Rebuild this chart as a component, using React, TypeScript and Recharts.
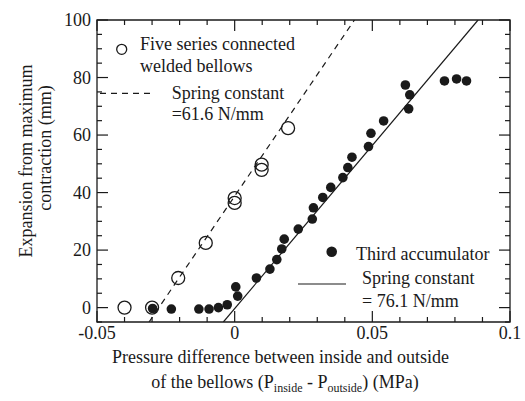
import React from "react";
import { ScatterChart, Scatter, XAxis, YAxis, ReferenceArea } from "recharts";

// open circles: five series connected welded bellows
const bellowsPoints = [
  { x: -0.04, y: 0 },
  { x: -0.03, y: 0 },
  { x: -0.0205, y: 10.3 },
  { x: -0.0105, y: 22.5 },
  { x: 0, y: 36.4 },
  { x: 0, y: 38.1 },
  { x: 0.0098, y: 47.9 },
  { x: 0.0098, y: 49.7 },
  { x: 0.0194, y: 62.4 },
];

// filled circles: third accumulator
const accumulatorPoints = [
  { x: -0.0298, y: -0.3 },
  { x: -0.023, y: -0.5 },
  { x: -0.013, y: -0.5 },
  { x: -0.0093, y: -0.5 },
  { x: -0.0059, y: 0 },
  { x: -0.0027, y: 1 },
  { x: 0.0011, y: 4 },
  { x: 0.0004, y: 7.2 },
  { x: 0.0079, y: 10.3 },
  { x: 0.0128, y: 13.4 },
  { x: 0.0153, y: 16.7 },
  { x: 0.0171, y: 20.4 },
  { x: 0.018, y: 23.8 },
  { x: 0.0231, y: 27.3 },
  { x: 0.0282, y: 30.8 },
  { x: 0.0286, y: 34.7 },
  { x: 0.032, y: 38.3 },
  { x: 0.0349, y: 41.8 },
  { x: 0.0393, y: 45.2 },
  { x: 0.0411, y: 48.7 },
  { x: 0.0426, y: 52.3 },
  { x: 0.0486, y: 56 },
  { x: 0.0495, y: 60.6 },
  { x: 0.0541, y: 64.9 },
  { x: 0.0632, y: 69.1 },
  { x: 0.0636, y: 74 },
  { x: 0.062, y: 77.4 },
  { x: 0.0762, y: 78.8 },
  { x: 0.0806, y: 79.5 },
  { x: 0.0842, y: 78.8 },
];

// fitted spring-constant lines (end points at the frame edges)
const bellowsFit = [
  { x: -0.0311, y: -5 },
  { x: 0.0435, y: 100 },
];
const accumulatorFit = [
  { x: -0.0041, y: -5 },
  { x: 0.0884, y: 100 },
];

const xTicks = [-0.05, -0.04, -0.03, -0.02, -0.01, 0, 0.01, 0.02, 0.03, 0.04, 0.05, 0.06, 0.07, 0.08, 0.09, 0.1];
const xLabels = ["-0.05", "0", "0.05", "0.1"];
const yTicks = [-5, 0, 5, 10, 15, 20, 25, 30, 35, 40, 45, 50, 55, 60, 65, 70, 75, 80, 85, 90, 95, 100];
const yLabels = ["0", "20", "40", "60", "80", "100"];

const W = 525;
const H = 401;
const TOP = 20;
const RIGHT = 15;
const YAXIS_W = 97;
const XAXIS_H = 79;
const PLOT_W = W - YAXIS_W - RIGHT;
const PLOT_H = H - TOP - XAXIS_H;

const FONT = "Liberation Serif";
const INK = "#1a1a1a";
const MAJOR = 11;
const MINOR = 5;
const textStyle = { fontFamily: FONT, fontSize: 18 };

function fmtX(v: number) {
  return v === 0 ? "0" : String(v);
}

function XTick(props: any) {
  const { x, y, payload } = props;
  const label = fmtX(payload.value);
  const major = xLabels.includes(label);
  const len = major ? MAJOR : MINOR;
  const top = y - PLOT_H;
  return (
    <g>
      <line x1={x} y1={y} x2={x} y2={y - len} stroke={INK} strokeWidth={1.2} />
      <line x1={x} y1={top} x2={x} y2={top + len} stroke={INK} strokeWidth={1.2} />
      {major && (
        <text x={x} y={y + 17} textAnchor="middle" style={textStyle} fill={INK}>
          {label}
        </text>
      )}
    </g>
  );
}

function YTick(props: any) {
  const { x, y, payload } = props;
  const label = String(payload.value);
  const major = yLabels.includes(label);
  const len = major ? MAJOR : MINOR;
  const right = x + PLOT_W;
  return (
    <g>
      <line x1={x} y1={y} x2={x + len} y2={y} stroke={INK} strokeWidth={1.2} />
      <line x1={right} y1={y} x2={right - len} y2={y} stroke={INK} strokeWidth={1.2} />
      {major && (
        <text x={x - 6} y={y + 6} textAnchor="end" style={textStyle} fill={INK}>
          {label}
        </text>
      )}
    </g>
  );
}

const openDot = (p: any) => (
  <circle cx={p.cx} cy={p.cy} r={6.5} fill="none" stroke={INK} strokeWidth={1.3} />
);
const filledDot = (p: any) => <circle cx={p.cx} cy={p.cy} r={4.8} fill={INK} />;
const noDot = () => <g />;

export default function App() {
  return (
    <div style={{ position: "absolute", left: 0, top: 0, width: W, height: H, background: "#fff" }}>
      <ScatterChart width={W} height={H} margin={{ top: TOP, right: RIGHT, left: 0, bottom: 0 }}>
        <XAxis
          type="number"
          dataKey="x"
          domain={[-0.05, 0.1]}
          ticks={xTicks}
          interval={0}
          allowDataOverflow
          height={XAXIS_H}
          axisLine={false}
          tickLine={false}
          tickSize={0}
          tickMargin={0}
          tick={<XTick />}
        />
        <YAxis
          type="number"
          dataKey="y"
          domain={[-5, 100]}
          ticks={yTicks}
          interval={0}
          allowDataOverflow
          width={YAXIS_W}
          axisLine={false}
          tickLine={false}
          tickSize={0}
          tickMargin={0}
          tick={<YTick />}
        />
        <ReferenceArea x1={-0.05} x2={0.1} y1={-5} y2={100} fill="none" stroke={INK} strokeWidth={1.3} />
        <Scatter
          data={bellowsFit}
          line={{ stroke: INK, strokeWidth: 1.2, strokeDasharray: "6 5" }}
          shape={noDot}
          isAnimationActive={false}
        />
        <Scatter
          data={accumulatorFit}
          line={{ stroke: INK, strokeWidth: 1.2 }}
          shape={noDot}
          isAnimationActive={false}
        />
        <Scatter data={accumulatorPoints} shape={filledDot} isAnimationActive={false} />
        <Scatter data={bellowsPoints} shape={openDot} isAnimationActive={false} />
      </ScatterChart>

      {/* legends and axis titles */}
      <svg
        width={W}
        height={H}
        style={{ position: "absolute", left: 0, top: 0, pointerEvents: "none", ...textStyle }}
        fill={INK}
      >
        <circle cx={121.7} cy={49.3} r={5} fill="none" stroke={INK} strokeWidth={1.3} />
        <text x={140} y={50}>Five series connected</text>
        <text x={140} y={72}>welded bellows</text>
        <line x1={100} y1={93.3} x2={155} y2={93.3} stroke={INK} strokeWidth={1.2} strokeDasharray="6 5" />
        <text x={171.7} y={99}>Spring constant</text>
        <text x={171.7} y={120}>=61.6 N/mm</text>

        <circle cx={331.7} cy={251.7} r={5.3} fill={INK} />
        <text x={356} y={260}>Third accumulator</text>
        <line x1={298} y1={284} x2={346} y2={284} stroke={INK} strokeWidth={1.2} />
        <text x={362} y={284}>Spring constant</text>
        <text x={362} y={306.5}>= 76.1 N/mm</text>

        <text x={280.5} y={363} textAnchor="middle">
          Pressure difference between inside and outside
        </text>
        <text x={285} y={388} textAnchor="middle">
          of the bellows (P<tspan fontSize={12} dy={4}>inside</tspan>
          <tspan dy={-4}> - P</tspan>
          <tspan fontSize={12} dy={4}>outside</tspan>
          <tspan dy={-4}>)  (MPa)</tspan>
        </text>

        <text x={32} y={161} textAnchor="middle" transform="rotate(-90 32 161)">
          Expansion from maximum
        </text>
        <text x={51} y={148} textAnchor="middle" transform="rotate(-90 51 148)">
          contraction (mm)
        </text>
      </svg>
    </div>
  );
}
